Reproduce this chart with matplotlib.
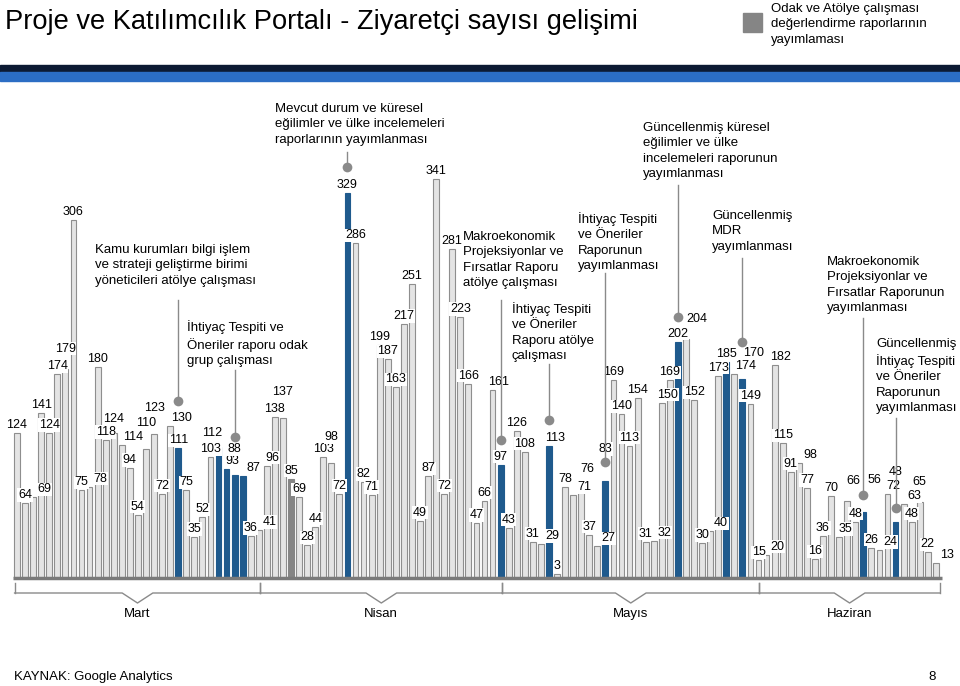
import matplotlib
matplotlib.use("Agg")
import matplotlib.pyplot as plt

plt.rcParams['font.family'] = ['Liberation Sans', 'DejaVu Sans']

# daily visitors, 1 March - end of June
visits = [124, 64, 69, 141, 124, 174, 179, 306, 75, 78,
          180, 118, 124, 114, 94, 54, 110, 123, 72, 130,
          111, 75, 35, 52, 103, 112, 93, 88, 87, 36,
          41, 96, 138, 137, 85, 69, 28, 44, 103, 98,
          72, 329, 286, 82, 71, 199, 187, 163, 217, 251,
          49, 87, 341, 72, 281, 223, 166, 47, 66, 161,
          97, 43, 126, 108, 31, 29, 113, 3, 78, 71,
          76, 37, 27, 83, 169, 140, 113, 154, 31, 32,
          150, 169, 202, 204, 152, 30, 40, 173, 185, 174,
          170, 149, 15, 20, 182, 115, 91, 98, 77, 16,
          36, 70, 35, 66, 48, 56, 26, 24, 72, 48,
          63, 48, 65, 22, 13]

# days with a workshop / publication (blue) and the evaluation-report day (dark grey)
event_days = [20, 25, 26, 27, 28, 41, 60, 66, 73, 82, 88, 90, 105, 109]
eval_days = [34]

months = ['Mart', 'Nisan', 'Mayıs', 'Haziran']
month_edges = [-0.3, 30.2, 60.2, 92.1, 114.5]

events = [
    (20, "Kamu kurumları bilgi işlem\nve strateji geliştirme birimi\nyöneticileri atölye çalışması"),
    (27, "İhtiyaç Tespiti ve\nÖneriler raporu odak\ngrup çalışması"),
    (41, "Mevcut durum ve küresel\neğilimler ve ülke incelemeleri\nraporlarının yayımlanması"),
    (60, "Makroekonomik\nProjeksiyonlar ve\nFırsatlar Raporu\natölye çalışması"),
    (66, "İhtiyaç Tespiti\nve Öneriler\nRaporu atölye\nçalışması"),
    (73, "İhtiyaç Tespiti\nve Öneriler\nRaporunun\nyayımlanması"),
    (82, "Güncellenmiş küresel\neğilimler ve ülke\nincelemeleri raporunun\nyayımlanması"),
    (90, "Güncellenmiş\nMDR\nyayımlanması"),
    (105, "Makroekonomik\nProjeksiyonlar ve\nFırsatlar Raporunun\nyayımlanması"),
    (109, "Güncellenmiş\nİhtiyaç Tespiti\nve Öneriler\nRaporunun\nyayımlanması"),
]
# text left/top, line top, dot y (pixels)
event_pos = [(95, 244, 300, 401), (187, 320, 370, 437), (275, 103, 152, 167),
             (463, 231, 300, 440), (512, 302, 364, 420), (578, 212, 273, 462),
             (643, 122, 185, 317), (712, 210, 258, 342), (827, 256, 318, 495),
             (876, 338, 418, 508)]

W, H = 960, 686
X0, DX = 17, 8.06
BASE, SCALE = 578, 1.17

LIGHT = '#e4e4e4'
EDGE = '#8e8e8e'
BLUE = '#1f5a8d'
DARK = '#858585'


def px2x(px):
    return (px - X0) / DX


def py2y(py):
    return (BASE - py) / SCALE


fig = plt.figure(figsize=(9.6, 6.86), dpi=100)
ax = fig.add_axes([0, 0, 1, 1])
ax.set_xlim(px2x(0), px2x(W))
ax.set_ylim(py2y(H), py2y(0))
ax.axis('off')

colors = []
for i in range(len(visits)):
    if i in event_days:
        colors.append(BLUE)
    elif i in eval_days:
        colors.append(DARK)
    else:
        colors.append(LIGHT)
edges = [c if c != LIGHT else EDGE for c in colors]
ax.bar(range(len(visits)), visits, width=0.72, color=colors, edgecolor=edges,
       linewidth=0.8, zorder=2)

# baseline
ax.plot([px2x(13), px2x(942)], [0, 0], color='#7a7a7a', lw=2.5, zorder=3,
        solid_capstyle='butt')

# event annotations
placed = []
for (idx, txt), (tx, ty, ltop, doty) in zip(events, event_pos):
    lx = X0 + DX * idx
    ax.plot([px2x(lx), px2x(lx)], [py2y(ltop), py2y(doty)], color='#8a8a8a',
            lw=1, zorder=6)
    ax.plot(px2x(lx), py2y(doty), 'o', ms=7, color='#8a8a8a', mec='none', zorder=7)
    placed.append((lx - 5, doty - 5, lx + 5, doty + 5))
    fig.text(tx / W, 1 - ty / H, txt, ha='left', va='top', fontsize=9.5,
             linespacing=1.38)


# value labels, nudged so they do not collide
def overlap(a, b):
    return not (a[2] <= b[0] or b[2] <= a[0] or a[3] <= b[1] or b[3] <= a[1])


for i, v in enumerate(visits):
    s = str(v)
    w = 7.2 * len(s) + 3
    h = 12
    bx = X0 + DX * i
    top = BASE - SCALE * v
    box = None
    for k in range(15):
        for dx in (0, -6, 6, -11, 11):
            cx = bx + dx
            cy = top - 8 - 6 * k
            cand = (cx - w / 2, cy - h / 2, cx + w / 2, cy + h / 2)
            if not any(overlap(cand, b) for b in placed):
                box = cand
                break
        if box:
            break
    placed.append(box)
    cx = (box[0] + box[2]) / 2
    cy = (box[1] + box[3]) / 2
    ax.text(px2x(cx), py2y(cy), s, ha='center', va='center', fontsize=9,
            zorder=5, bbox=dict(boxstyle='square,pad=0.05', fc='white', ec='none'))

# month brackets
for k, name in enumerate(months):
    a, b = month_edges[k], month_edges[k + 1]
    m = (a + b) / 2
    yb = py2y(593)
    ax.plot([a, a], [py2y(583), yb], color='#8a8a8a', lw=1)
    ax.plot([b, b], [py2y(583), yb], color='#8a8a8a', lw=1)
    ax.plot([a, m - 1.9, m, m + 1.9, b], [yb, yb, py2y(603), yb, yb],
            color='#8a8a8a', lw=1)
    ax.text(m, py2y(614), name, ha='center', va='center', fontsize=9.5)

# header
fig.text(5 / W, 1 - 22 / H, "Proje ve Katılımcılık Portalı - Ziyaretçi sayısı gelişimi",
         ha='left', va='center', fontsize=19.6)
fig.patches.append(plt.Rectangle((0, 1 - 72 / H), 1, 7 / H, transform=fig.transFigure,
                                 color='#0c1a33', zorder=1))
fig.patches.append(plt.Rectangle((0, 1 - 81 / H), 1, 9 / H, transform=fig.transFigure,
                                 color='#2b6dc4', zorder=1))
fig.patches.append(plt.Rectangle((743 / W, 1 - 32 / H), 19 / W, 19 / H,
                                 transform=fig.transFigure, color=DARK, zorder=1))
fig.text(771 / W, 1 - 3 / H, "Odak ve Atölye çalışması\ndeğerlendirme raporlarının\nyayımlaması",
         ha='left', va='top', fontsize=9.5, linespacing=1.38)

# footer
fig.text(14 / W, 1 - 677 / H, "KAYNAK: Google Analytics", ha='left', va='center',
         fontsize=9.5)
fig.text(932 / W, 1 - 677 / H, "8", ha='center', va='center', fontsize=9.5)

fig.savefig('out.png', dpi=100)
